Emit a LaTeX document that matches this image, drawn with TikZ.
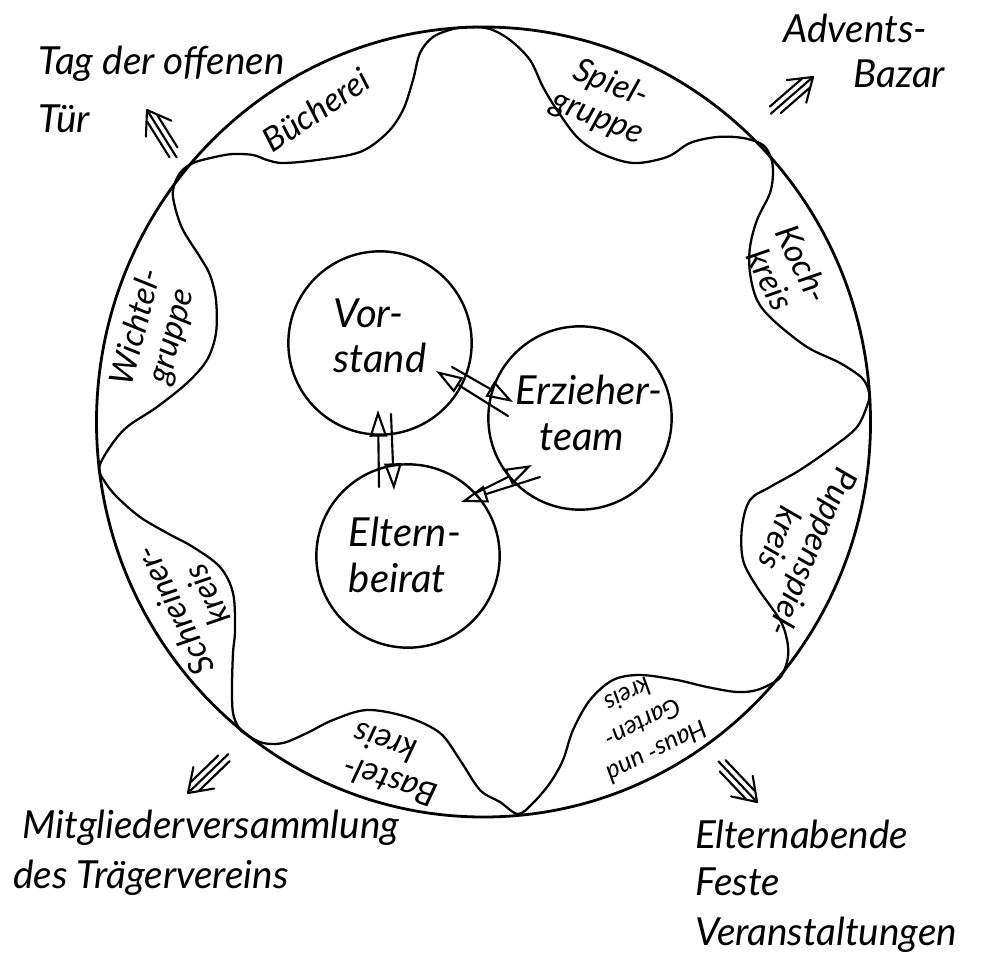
\documentclass[tikz,border=0pt]{standalone}
\usepackage{fontspec}
\setmainfont{Lato}
\usetikzlibrary{arrows.meta}
\begin{document}
\begin{tikzpicture}[x=0.75pt,y=-0.75pt,line cap=round,line join=round,
  ring/.style={line width=2.1pt},
  wave/.style={line width=1.7pt},
  blob/.style={circle,draw,line width=1.8pt,minimum size=137.5pt,inner sep=0pt},
  outer/.style={font=\fontsize{29}{33}\selectfont\itshape,anchor=base west,inner sep=0pt},
  lobe/.style={font=\fontsize{25}{27}\selectfont\itshape,align=center,inner sep=0pt},
  ctext/.style={font=\fontsize{30}{34}\selectfont\itshape,align=left,inner sep=0pt},
  carrow/.style={line width=1.6pt,-{Triangle[open,length=20pt,width=13pt,line width=1.6pt]}},
  triarrow/.pic={
    \draw[line width=1.6pt] (-52,-6) -- (-10,-6);
    \draw[line width=1.6pt] (-56,0) -- (-3,0);
    \draw[line width=1.6pt] (-48,6) -- (-10,6);
    \draw[line width=1.6pt] (-22,-15) -- (0,0) -- (-22,15);
  }]
\useasboundingbox (0,0) rectangle (987,962);

% big ring
\draw[ring] (483.5,422) ellipse [x radius=387, y radius=395];

% wavy inner star
\draw[wave] plot[smooth cycle, tension=0.55] coordinates {
(470,27) (490,29) (510,40) (530,60) (543,87) (557,110) (577,137) (600,153) (633,163) (667,157) (690,143) (717,137) (743,138) (763,145) (771,158)
(773,173) (770,193) (757,220) (750,247) (750,273) (757,300) (773,320) (807,347) (840,363) (862,378) (869,392)
(868,403) (857,427) (833,447) (800,470) (770,487) (750,500) (742,527) (743,560) (757,587) (780,620) (787,640) (788,657) (783,673) (776,681)
(757,690) (737,692) (707,687) (677,680) (640,675) (613,680) (590,700) (573,730) (563,760) (550,783) (533,803) (518,814)
(500,802) (480,790) (460,760) (440,733) (407,717) (367,710) (333,720) (307,733) (283,743) (263,743) (247,735) (239,728)
(233,713) (232,687) (233,653) (235,630) (233,593) (220,567) (193,547) (167,533) (140,517) (117,497) (105,482) (99,468)
(110,447) (127,427) (157,407) (187,383) (207,360) (216,333) (216,300) (210,275) (200,257) (183,230) (175,207) (173,190) (180,173) (193,163)
(215,157) (233,154) (253,155) (267,160) (283,163) (317,160) (360,152) (387,133) (403,110) (413,80) (420,53) (433,37) (453,29)};

% lobe labels
\node[lobe,rotate=34] (buch) at (316,110) {Bücherei};
\node[lobe,rotate=-22] (spiel) at (604,101) {Spiel-\\gruppe};
\node[lobe,rotate=-64] (koch) at (787,272) {Koch-\\kreis};
\node[lobe,rotate=-113] (puppe) at (797,546) {Puppenspiel-\\kreis};
\node[lobe,rotate=207,font=\fontsize{19}{24}\selectfont\itshape] (haus) at (643,724) {Haus- und\\Garten-\\kreis};
\node[lobe,rotate=162,align=right] (bastel) at (395,765) {Bastel-\\kreis};
\node[lobe,rotate=116] (schrein) at (190,603) {Schreiner-\\kreis};
\node[lobe,rotate=75] (wicht) at (155,332) {Wichtel-\\gruppe};

% central circles
\node[blob] (vorstand) at (380,343) {};
\node[blob] (erzieher) at (580,418) {};
\node[blob] (eltern) at (408,556) {};
\node[ctext] (vorstandtxt) at (380,336) {Vor-\\stand};
\node[ctext] (erziehertxt) at (589,413) {Erzieher-\\\hspace*{0.6em}team};
\node[ctext] (elterntxt) at (405,555) {Eltern-\\beirat};

% central arrows
\coordinate (a1s) at (379,487); \coordinate (a1e) at (378,410);
\coordinate (a2s) at (391,414); \coordinate (a2e) at (394,490);
\coordinate (b1s) at (508,416); \coordinate (b1e) at (436,371);
\coordinate (b2s) at (452,367); \coordinate (b2e) at (513,402);
\coordinate (c1s) at (540,477); \coordinate (c1e) at (461,502);
\coordinate (c2s) at (474,494); \coordinate (c2e) at (532,465);
\draw[carrow] (a1s) -- (a1e);
\draw[carrow] (a2s) -- (a2e);
\draw[carrow] (b1s) -- (b1e);
\draw[carrow] (b2s) -- (b2e);
\draw[carrow] (c1s) -- (c1e);
\draw[carrow] (c2s) -- (c2e);

% outer arrows
\pic[rotate=122] at (147,110) {triarrow};
\pic[rotate=41] at (813,77) {triarrow};
\pic[rotate=224] at (188,793) {triarrow};
\pic[rotate=-46.5] at (757,802) {triarrow};

% outer texts
\node[outer] (tag1) at (38,75) {Tag der offenen};
\node[outer] (tag2) at (38,133) {Tür};
\node[outer] (adv1) at (783,43) {Advents-};
\node[outer] (adv2) at (853,88) {Bazar};
\node[outer] (mit1) at (22,838) {Mitgliederversammlung};
\node[outer] (mit2) at (13,888) {des Trägervereins};
\node[outer] (elt1) at (695,848) {Elternabende};
\node[outer] (elt2) at (695,895) {Feste};
\node[outer] (elt3) at (695,945) {Veranstaltungen};
\end{tikzpicture}
\end{document}
